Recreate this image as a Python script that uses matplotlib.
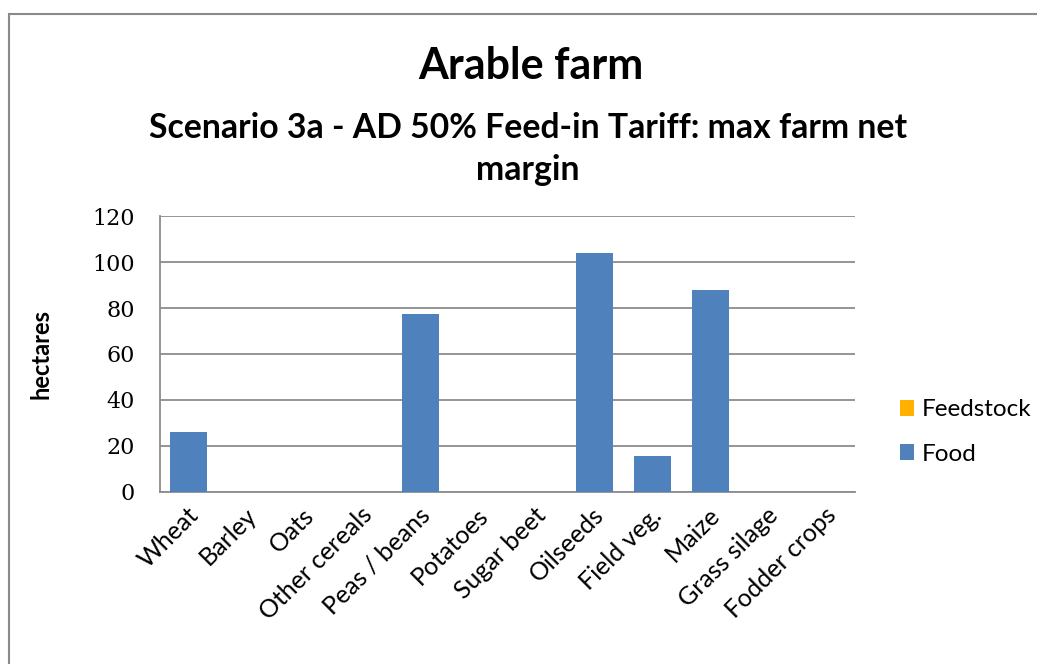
import matplotlib
matplotlib.use("Agg")
import matplotlib.pyplot as plt
from matplotlib.patches import Rectangle, Patch
from matplotlib.transforms import ScaledTranslation

# Land allocation per crop (hectares)
crops = ["Wheat", "Barley", "Oats", "Other cereals", "Peas / beans", "Potatoes",
         "Sugar beet", "Oilseeds", "Field veg.", "Maize", "Grass silage", "Fodder crops"]
food = [26, 0, 0, 0, 77.5, 0, 0, 104, 15.5, 88, 0, 0]
feedstock = [0, 0, 0, 0, 0, 0, 0, 0, 0, 0, 0, 0]
y_ticks = [0, 20, 40, 60, 80, 100, 120]

title = "Arable farm"
subtitle = "Scenario 3a - AD 50% Feed-in Tariff: max farm net\nmargin"

SANS = "Lato"
SERIF = "DejaVu Serif"
FOOD_COLOR = "#4F81BD"
FEED_COLOR = "#FFB000"
GRID_COLOR = "#8C8C8C"

W, H = 1037, 664
fig = plt.figure(figsize=(W / 100, H / 100), dpi=100)
fig.patch.set_facecolor("white")

# chart-area border (runs off the right and bottom edges)
fig.patches.append(Rectangle((9 / W, -0.2), 1.2, (H - 14) / H + 0.2,
                             transform=fig.transFigure, fill=False,
                             edgecolor="#8A8A8A", linewidth=1.5))

left, right, top, bottom = 160, 855, 216, 492
ax = fig.add_axes([left / W, 1 - bottom / H, (right - left) / W, (bottom - top) / H])

x = list(range(len(crops)))
ax.bar(x, food, width=0.64, color=FOOD_COLOR, label="Food", zorder=3)
ax.bar(x, feedstock, width=0.64, bottom=food, color=FEED_COLOR,
       label="Feedstock", zorder=3)

ax.set_xlim(-0.5, len(crops) - 0.5)
ax.set_ylim(y_ticks[0], y_ticks[-1])
ax.set_yticks(y_ticks)
ax.yaxis.grid(True, color=GRID_COLOR, linewidth=1.3, zorder=0)
ax.set_axisbelow(True)
for side in ("top", "right"):
    ax.spines[side].set_visible(False)
for side in ("left", "bottom"):
    ax.spines[side].set_color(GRID_COLOR)
    ax.spines[side].set_linewidth(1.3)

ax.tick_params(axis="y", length=0, pad=18)
for lab in ax.get_yticklabels():
    lab.set_fontfamily(SERIF)
    lab.set_fontsize(16)

ax.set_xticks(x)
ax.set_xticklabels(crops, rotation=45, ha="right", va="center",
                   rotation_mode="anchor", fontsize=18, fontfamily=SANS)
ax.tick_params(axis="x", length=0, pad=14)
shift = ScaledTranslation(6 / 100, 0, fig.dpi_scale_trans)
for lab in ax.get_xticklabels():
    lab.set_transform(lab.get_transform() + shift)

ax.set_ylabel("hectares", fontsize=17, fontweight="bold", fontfamily=SANS,
              labelpad=0)
ax.yaxis.set_label_coords(-(left - 52) / (right - left), 0.5)

fig.text(531 / W, 1 - 79 / H, title, ha="center", va="baseline",
         fontsize=31, fontweight="bold", fontfamily=SANS)
fig.text(528 / W, 1 - 112 / H, subtitle, ha="center", va="top",
         fontsize=24.3, fontweight="bold", fontfamily=SANS, linespacing=1.38,
         multialignment="center")

handles = [Patch(facecolor=FEED_COLOR), Patch(facecolor=FOOD_COLOR)]
ax.legend(handles, ["Feedstock", "Food"], loc="center left",
          bbox_to_anchor=((878 - left) / (right - left), (bottom - 432) / (bottom - top)),
          frameon=False, handlelength=0.6, handleheight=0.6, handletextpad=0.3,
          labelspacing=0.95, prop={"family": SANS, "size": 17.5})

fig.savefig("out.png", dpi=100, facecolor="white")
